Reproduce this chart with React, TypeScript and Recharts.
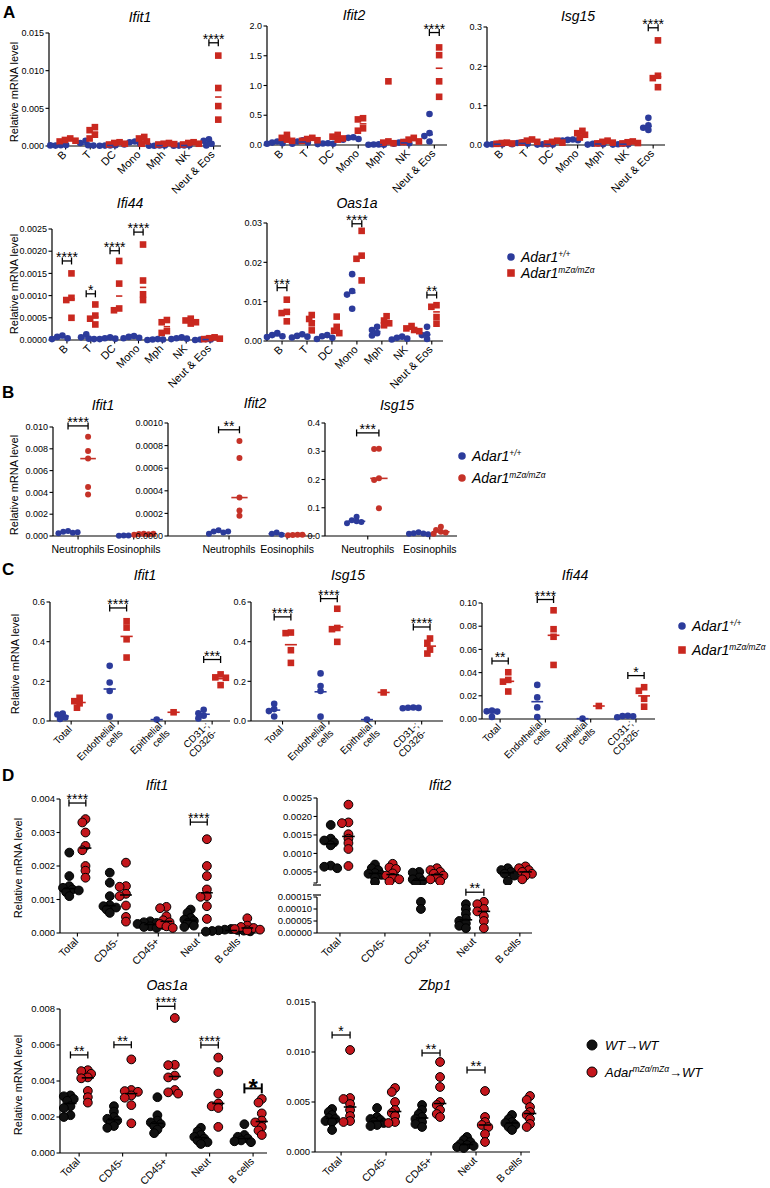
import React from 'react'
import { ScatterChart, Scatter, XAxis, YAxis, ReferenceDot } from 'recharts'

const FONT = '"Liberation Sans", Arial, Helvetica, sans-serif'
const BLUE = '#2c3b9b'
const RED = '#c9281f'
const DRED = '#c4161c'

// ---- A: sorted immune cells, n = 4
const aCells = ['B', 'T', 'DC', 'Mono', 'Mph', 'NK', 'Neut & Eos']
const aIfit1Wt = [[0.0001, 0.00005, 0.00012, 0.00008], [0.0007, 0.0004, 0.0001, 0.00005], [0.00008, 0.00005, 0.0001, 0.00004], [0.0006, 0.0005, 0.0003, 0.0002], [0.00006, 0.00004, 0.00008, 0.00003], [0.00008, 0.00005, 0.0001, 0.00004], [0.0009, 0.0007, 0.0003, 0.00008]]
const aIfit1Mut = [[0.001, 0.0008, 0.0007, 0.0006], [0.0025, 0.0021, 0.0015, 0.001], [0.0005, 0.0004, 0.0003, 0.0002], [0.0012, 0.001, 0.0006, 0.0003], [0.0004, 0.0003, 0.00025, 0.0002], [0.0005, 0.0004, 0.0003, 0.0002], [0.012, 0.0077, 0.0053, 0.0035]]
const aIfit1Sig = [{ cat: 6, y: 0.0137, label: '****' }]
const aIfit1Ticks = [0, 0.005, 0.01, 0.015]

const aIfit2Wt = [[0.06, 0.04, 0.03, 0.02], [0.08, 0.06, 0.04, 0.02], [0.03, 0.025, 0.02, 0.015], [0.13, 0.12, 0.1, 0.09], [0.01, 0.008, 0.005, 0.003], [0.05, 0.04, 0.03, 0.02], [0.52, 0.2, 0.15, 0.06]]
const aIfit2Mut = [[0.17, 0.12, 0.09, 0.07], [0.12, 0.1, 0.08, 0.07], [0.17, 0.14, 0.11, 0.09], [0.45, 0.43, 0.28, 0.24], [1.07, 0.06, 0.04, 0.03], [0.12, 0.09, 0.06, 0.05], [1.64, 1.51, 1.07, 0.81]]
const aIfit2Sig = [{ cat: 6, y: 1.89, label: '****' }]
const aIfit2Ticks = [0, 0.5, 1, 1.5, 2]

const aIsg15Wt = [[0.003, 0.002, 0.002, 0.001], [0.007, 0.005, 0.003, 0.002], [0.002, 0.002, 0.001, 0.001], [0.014, 0.013, 0.012, 0.011], [0.004, 0.003, 0.002, 0.001], [0.003, 0.002, 0.002, 0.001], [0.069, 0.05, 0.044, 0.038]]
const aIsg15Mut = [[0.006, 0.005, 0.004, 0.003], [0.014, 0.011, 0.008, 0.006], [0.011, 0.008, 0.006, 0.004], [0.036, 0.03, 0.026, 0.019], [0.011, 0.008, 0.006, 0.004], [0.009, 0.007, 0.005, 0.004], [0.266, 0.176, 0.17, 0.147]]
const aIsg15Sig = [{ cat: 6, y: 0.298, label: '****' }]
const aIsg15Ticks = [0, 0.1, 0.2, 0.3]

const aIfi44Wt = [[0.0001, 0.00007, 0.00004, 0.00002], [0.00013, 0.00006, 0.00003, 0.00002], [0.00006, 0.00004, 0.00003, 0.00002], [0.00009, 0.00007, 0.00005, 0.00004], [0.00002, 0.00001, 0.00001, 0], [0.00006, 0.00004, 0.00003, 0.00002], [0.00002, 0.00001, 0.00001, 0]]
const aIfi44Mut = [[0.0015, 0.00095, 0.0009, 0.0005], [0.0008, 0.00055, 0.00048, 0.00035], [0.00178, 0.00127, 0.00071, 0.00067], [0.00215, 0.00134, 0.00103, 0.0009], [0.00045, 0.0004, 0.0002, 0.00016], [0.00048, 0.00044, 0.0004, 0.00037], [0.00006, 0.00004, 0.00003, 0.00002]]
const aIfi44Sig = [{ cat: 0, y: 0.00178, label: '****' }, { cat: 1, y: 0.00104, label: '*' }, { cat: 2, y: 0.00201, label: '****' }, { cat: 3, y: 0.00243, label: '****' }]
const aIfi44Ticks = [0, 0.0005, 0.001, 0.0015, 0.002, 0.0025]

const aOas1aWt = [[0.002, 0.0015, 0.0012, 0.001], [0.0017, 0.0013, 0.0011, 0.0009], [0.0015, 0.0012, 0.0008, 0.0005], [0.017, 0.0127, 0.0118, 0.0082], [0.0036, 0.0028, 0.002, 0.0014], [0.0011, 0.0008, 0.0006, 0.0004], [0.0036, 0.0017, 0.0015, 0.0005]]
const aOas1aMut = [[0.0105, 0.0074, 0.0071, 0.005], [0.0066, 0.0056, 0.0045, 0.0027], [0.0062, 0.0036, 0.0026, 0.002], [0.028, 0.0217, 0.0209, 0.0154], [0.0063, 0.0052, 0.0045, 0.004], [0.0038, 0.0032, 0.0028, 0.0025], [0.0091, 0.0087, 0.0061, 0.0044]]
const aOas1aSig = [{ cat: 0, y: 0.01355, label: '***' }, { cat: 3, y: 0.0298, label: '****' }, { cat: 6, y: 0.0117, label: '**' }]
const aOas1aTicks = [0, 0.01, 0.02, 0.03]

// ---- B: neutrophils vs eosinophils
const bCells = ['Neutrophils', 'Eosinophils']
const bIfit1Wt = [[0.00045, 0.0004, 0.0003, 0.00025, 0.00035], [0.00005, 0.00003, 0.00004]]
const bIfit1Mut = [[0.0091, 0.0078, 0.0071, 0.0045, 0.0038], [0.0002, 0.00018, 0.00015, 0.00012, 0.0002]]
const bIfit1Sig = [{ cat: 0, y: 0.0101, label: '****' }]
const bIfit1Ticks = [0, 0.002, 0.004, 0.006, 0.008, 0.01]
const bIfit2Wt = [[0.00005, 0.00004, 0.00003, 0.00002, 0.00004], [0.00003, 0.00002, 0.00001]]
const bIfit2Mut = [[0.00084, 0.00069, 0.00034, 0.000225, 0.00018], [0.00001, 0.000008, 0.000012, 0.000006]]
const bIfit2Sig = [{ cat: 0, y: 0.00094, label: '**' }]
const bIfit2Ticks = [0, 0.0002, 0.0004, 0.0006, 0.0008, 0.001]
const bIsg15Wt = [[0.068, 0.056, 0.052, 0.05, 0.045], [0.013, 0.01, 0.009, 0.008, 0.006]]
const bIsg15Mut = [[0.309, 0.308, 0.204, 0.198, 0.098], [0.033, 0.021, 0.015, 0.012, 0.008]]
const bIsg15Sig = [{ cat: 0, y: 0.365, label: '***' }]
const bIsg15Ticks = [0, 0.1, 0.2, 0.3, 0.4]

// ---- C: lung cell fractions
const cCells = ['Total', 'Endothelial\ncells', 'Epithelial\ncells', 'CD31-;\nCD326-']
const cIfit1Wt = [[0.038, 0.033, 0.018, 0.01], [0.278, 0.194, 0.151, 0.022], [0.007], [0.057, 0.039, 0.027, 0.013]]
const cIfit1Mut = [[0.117, 0.1, 0.089, 0.067], [0.503, 0.471, 0.412, 0.32], [0.044], [0.235, 0.22, 0.218, 0.181]]
const cIfit1Sig = [{ cat: 1, y: 0.57, label: '****' }, { cat: 3, y: 0.31, label: '***' }]
const cIsg15Wt = [[0.087, 0.06, 0.05, 0.023], [0.24, 0.176, 0.151, 0.022], [0.007], [0.068, 0.067, 0.066, 0.064]]
const cIsg15Mut = [[0.446, 0.443, 0.357, 0.293], [0.566, 0.469, 0.463, 0.399], [0.144], [0.416, 0.394, 0.36, 0.34]]
const cIsg15Sig = [{ cat: 0, y: 0.525, label: '****' }, { cat: 1, y: 0.617, label: '****' }, { cat: 3, y: 0.474, label: '****' }]
const cTicks = [0, 0.2, 0.4, 0.6]
const cIfi44Wt = [[0.0072, 0.0066, 0.0064, 0.0018], [0.0294, 0.0186, 0.01, 0.0017], [0.0003], [0.0028, 0.0026, 0.0024, 0.0015]]
const cIfi44Mut = [[0.0403, 0.0337, 0.0322, 0.0237], [0.0937, 0.0774, 0.0709, 0.0466], [0.0112], [0.0274, 0.0243, 0.0174, 0.0106]]
const cIfi44Sig = [{ cat: 0, y: 0.05, label: '**' }, { cat: 1, y: 0.103, label: '****' }, { cat: 3, y: 0.0374, label: '*' }]
const cIfi44Ticks = [0, 0.02, 0.04, 0.06, 0.08, 0.1]

// ---- D: bone marrow chimeras
const dCells = ['Total', 'CD45-', 'CD45+', 'Neut', 'B cells']
const dIfit1Wt = [[0.0024, 0.0017, 0.0014, 0.00135, 0.0013, 0.00127, 0.00122, 0.0011], [0.0018, 0.0015, 0.0011, 0.00083, 0.0008, 0.00076, 0.0007, 0.0006], [0.00035, 0.00032, 0.0003, 0.00027, 0.00024, 0.0002, 0.00018, 0.00015], [0.0007, 0.0006, 0.00045, 0.0004, 0.00036, 0.0003, 0.00022, 0.00018], [0.00012, 0.0001, 0.00009, 0.00008, 0.00007, 0.00006, 0.00005, 0.00004]]
const dIfit1Mut = [[0.0034, 0.0033, 0.003, 0.0026, 0.00247, 0.002, 0.00186, 0.00165], [0.0021, 0.0014, 0.00138, 0.00117, 0.0011, 0.00082, 0.00048, 0.00034], [0.00078, 0.00074, 0.0005, 0.00038, 0.00032, 0.00027, 0.0002, 0.00015], [0.0028, 0.002, 0.0017, 0.0013, 0.0011, 0.00108, 0.0008, 0.00042], [0.00044, 0.00022, 0.00018, 0.00015, 0.00012, 0.0001, 0.00008]]
const dIfit1Sig = [{ cat: 0, y: 0.00388, label: '****' }, { cat: 3, y: 0.00331, label: '****' }]
const dIfit1Ticks = [0, 0.001, 0.002, 0.003, 0.004]

const dIfit2Wt = [[0.00177, 0.0014, 0.00135, 0.0013, 0.00122, 0.00067, 0.00064, 0.0006], [0.0007, 0.0006, 0.00055, 0.00047, 0.00045, 0.00042, 0.00035, 0.00023], [0.0005, 0.00048, 0.00035, 0.0003, 0.00025, 0.0002, 0.00013, 0.0001], [0.00012, 0.0001, 0.00008, 0.00006, 0.00005, 0.00004, 0.00003, 0.00002], [0.0006, 0.00055, 0.0005, 0.00045, 0.0004, 0.00025]]
const dIfit2Mut = [[0.00232, 0.00184, 0.00182, 0.00152, 0.0014, 0.00128, 0.00112, 0.00066], [0.00072, 0.00062, 0.00058, 0.00046, 0.0004, 0.00034, 0.0003, 0.00024], [0.0006, 0.00055, 0.0005, 0.00045, 0.0004, 0.00035, 0.0003, 0.00025], [0.00013, 0.00012, 0.0001, 0.00009, 0.00007, 0.00005, 0.00002], [0.00065, 0.0006, 0.00055, 0.0005, 0.00045, 0.0004, 0.0003]]
const dIfit2Sig = [{ cat: 3, y: 0.00017, label: '**' }]
const dIfit2UpperTicks = [0.0002, 0.0005, 0.001, 0.0015, 0.002, 0.0025]
const dIfit2LowerTicks = [0, 0.00005, 0.0001, 0.00015]
const dIfit2Break = 0.00017

const dOas1aWt = [[0.0032, 0.00315, 0.003, 0.0029, 0.0026, 0.0025, 0.0021, 0.002], [0.0026, 0.0023, 0.002, 0.0019, 0.0018, 0.0017, 0.0015, 0.0014], [0.0031, 0.0021, 0.0018, 0.0017, 0.0016, 0.0015, 0.0013, 0.0011], [0.0014, 0.0012, 0.001, 0.0009, 0.0008, 0.0007, 0.0006, 0.0005], [0.0016, 0.001, 0.0009, 0.0008, 0.0007, 0.00065, 0.0006]]
const dOas1aMut = [[0.0046, 0.00455, 0.0044, 0.0042, 0.00415, 0.00345, 0.0031, 0.0028], [0.0052, 0.0035, 0.00344, 0.0034, 0.0032, 0.00307, 0.00266, 0.00165], [0.0075, 0.0049, 0.00488, 0.0043, 0.0042, 0.0035, 0.00337, 0.0033], [0.0053, 0.0045, 0.0033, 0.00275, 0.0026, 0.0025, 0.00145], [0.003, 0.0028, 0.0022, 0.0018, 0.0017, 0.00145, 0.00125, 0.001]]
const dOas1aSig = [{ cat: 0, y: 0.00545, label: '**' }, { cat: 1, y: 0.00601, label: '**' }, { cat: 2, y: 0.00815, label: '****' }, { cat: 3, y: 0.006, label: '****' }, { cat: 4, y: 0.00359, label: '*', big: true }]
const dOas1aTicks = [0, 0.002, 0.004, 0.006, 0.008]

const dZbp1Wt = [[0.0043, 0.004, 0.0037, 0.0034, 0.0033, 0.0031, 0.003, 0.0022], [0.0044, 0.0035, 0.0033, 0.0032, 0.003, 0.0029, 0.0027, 0.0026], [0.0047, 0.0042, 0.0038, 0.0035, 0.0033, 0.003, 0.0028, 0.0025], [0.0015, 0.0012, 0.001, 0.0008, 0.0007, 0.0006, 0.0005, 0.0004], [0.0037, 0.0033, 0.003, 0.0029, 0.0027, 0.0025, 0.0022]]
const dZbp1Mut = [[0.0102, 0.0054, 0.0053, 0.0048, 0.0042, 0.0036, 0.0031, 0.003], [0.0064, 0.006, 0.005, 0.0042, 0.0039, 0.0036, 0.003, 0.0029], [0.009, 0.0075, 0.0065, 0.005, 0.0047, 0.0042, 0.0038, 0.0035], [0.0061, 0.0035, 0.003, 0.0027, 0.0025, 0.0018, 0.001], [0.0056, 0.0052, 0.0045, 0.004, 0.0037, 0.0033, 0.0028, 0.0025]]
const dZbp1Sig = [{ cat: 0, y: 0.0117, label: '*' }, { cat: 2, y: 0.0099, label: '**' }, { cat: 3, y: 0.0082, label: '**' }]
const dZbp1Ticks = [0, 0.005, 0.01, 0.015]

type Sig = { cat: number; y: number; label: string; big?: boolean }
type Kind = {
  r: number; wtFill: string; mutFill: string; mutSquare: boolean; stroke?: string
  off: number; medHalf: number; medWt: string; medMut: string; stat: 'median' | 'mean'
  tick: 'rot' | 'flat'; tickFont: number; yFont: number; gap: number; step: number
}

const kindA: Kind = { r: 3.3, wtFill: BLUE, mutFill: RED, mutSquare: true, off: 0.19, medHalf: 0.13, medWt: BLUE, medMut: RED, stat: 'median', tick: 'rot', tickFont: 11, yFont: 9, gap: 0.7, step: 0.8 }
const kindB: Kind = { ...kindA, r: 3, mutSquare: false, mutFill: '#c53228', medMut: '#c53228', off: 0.18, medHalf: 0.14, tick: 'flat', tickFont: 10.5 }
const kindC: Kind = { ...kindA, r: 3.3, stat: 'mean', off: 0.18, tickFont: 10 }
const kindD: Kind = { r: 4.4, wtFill: '#111', mutFill: DRED, mutSquare: false, stroke: '#000', off: 0.2, medHalf: 0.14, medWt: '#000', medMut: '#000', stat: 'median', tick: 'rot', tickFont: 10.5, yFont: 9.5, gap: 0.5, step: 0.75 }

function centre(vals: number[], stat: 'median' | 'mean') {
  if (stat === 'mean') return vals.reduce((a, b) => a + b, 0) / vals.length
  const s = [...vals].sort((a, b) => a - b)
  const m = Math.floor(s.length / 2)
  return s.length % 2 ? s[m] : (s[m - 1] + s[m]) / 2
}

// simple beeswarm: push points sideways when they would sit on each other
function swarm(ys: number[], minDist: number, step: number) {
  const placed: [number, number][] = []
  return ys.map(y => {
    for (let k = 0; k < 24; k++) {
      const dx = k === 0 ? 0 : (k % 2 ? -1 : 1) * Math.ceil(k / 2) * step
      if (placed.every(([px, py]) => Math.hypot(px - dx, py - y) >= minDist)) {
        placed.push([dx, y])
        return dx
      }
    }
    placed.push([0, y])
    return 0
  })
}

function CatTick(props: any) {
  const { x, y, payload, labels, kind } = props
  const label: string = labels[payload.value] ?? ''
  const fs = kind.tickFont
  if (kind.tick === 'flat') {
    return <text x={x} y={y + 11.5} textAnchor="middle" fontSize={fs} fontFamily={FONT} fill="#000">{label}</text>
  }
  const lines = label.split('\n')
  const lh = fs * 1.05
  return (
    <g transform={`translate(${x - 1},${y + 1}) rotate(-45)`}>
      <text textAnchor="end" fontSize={fs} fontFamily={FONT} fill="#000">
        {lines.map((ln, i) => (
          <tspan key={i} x={0} y={(i - (lines.length - 1) / 2) * lh + fs * 0.35}>{ln}</tspan>
        ))}
      </text>
    </g>
  )
}

type PlotProps = {
  cats: string[]; wt: number[][]; mut: number[][]; sig?: Sig[]
  yDomain: [number, number]; yTicks: number[]; digits: number
  axisX: number; top: number; bottom: number; right: number; xDomain: [number, number]
  kind: Kind; hideX?: boolean; blank?: number; keep?: (v: number) => boolean
}

function Plot(p: PlotProps) {
  const YW = 48, MT = 32, MR = 14
  const XH = p.hideX ? 0 : 62
  const k = p.kind
  const plotW = p.right - p.axisX
  const plotH = p.bottom - p.top
  const [x0, x1] = p.xDomain
  const [y0, y1] = p.yDomain
  const ux = plotW / (x1 - x0)
  const toPy = (v: number) => p.bottom - ((v - y0) / (y1 - y0)) * plotH
  const keep = p.keep ?? (() => true)

  const build = (groups: number[][], side: number) => {
    const pts: { x: number; y: number }[] = []
    groups.forEach((vals, ci) => {
      const kept = vals.filter(keep)
      const offs = swarm(kept.map(toPy), k.r * 2 * k.gap, k.r * k.step)
      kept.forEach((v, i) => pts.push({ x: ci + side * k.off + offs[i] / ux, y: v }))
    })
    return pts
  }
  const wtPts = build(p.wt, -1)
  const mutPts = build(p.mut, 1)
  const meds: { x: number; y: number; c: string }[] = []
  ;[p.wt, p.mut].forEach((groups, gi) =>
    groups.forEach((vals, ci) => {
      const m = centre(vals, k.stat)
      if (!keep(m)) return
      meds.push({ x: ci + (gi ? 1 : -1) * k.off, y: m, c: gi ? k.medMut : k.medWt })
    })
  )
  const hw = k.medHalf * ux
  const bw = k.off * ux

  const wtShape = (s: any) => (
    <circle cx={s.cx} cy={s.cy} r={k.r} fill={k.wtFill} stroke={k.stroke ?? 'none'} strokeWidth={k.stroke ? 1 : 0} />
  )
  const mutShape = (s: any) =>
    k.mutSquare ? (
      <rect x={s.cx - k.r} y={s.cy - k.r} width={k.r * 2} height={k.r * 2} fill={k.mutFill} />
    ) : (
      <circle cx={s.cx} cy={s.cy} r={k.r} fill={k.mutFill} stroke={k.stroke ?? 'none'} strokeWidth={k.stroke ? 1 : 0} />
    )
  const medShape = (s: any) => (
    <line x1={s.cx - hw} x2={s.cx + hw} y1={s.cy} y2={s.cy} stroke={s.payload.c} strokeWidth={1.6} />
  )

  const fmt = (v: number) => (p.blank !== undefined && Math.abs(v - p.blank) < 1e-12 ? '' : v.toFixed(p.digits))

  return (
    <div style={{ position: 'absolute', left: p.axisX - YW, top: p.top - MT }}>
      <ScatterChart width={YW + plotW + MR} height={MT + plotH + XH + 2} margin={{ top: MT, right: MR, left: 0, bottom: 2 }}>
        <XAxis
          type="number" dataKey="x" domain={p.xDomain} ticks={p.cats.map((_, i) => i)} interval={0}
          hide={p.hideX} height={XH} tickSize={3.5} axisLine={{ stroke: '#000', strokeWidth: 1.2 }}
          tickLine={{ stroke: '#000', strokeWidth: 1.1 }}
          tick={(tp: any) => <CatTick {...tp} labels={p.cats} kind={k} />}
        />
        <YAxis
          type="number" dataKey="y" domain={p.yDomain} ticks={p.yTicks} interval={0} width={YW}
          tickSize={3.5} tickMargin={1.5} tickFormatter={fmt}
          axisLine={{ stroke: '#000', strokeWidth: 1.2 }} tickLine={{ stroke: '#000', strokeWidth: 1.1 }}
          tick={{ fontSize: k.yFont, fill: '#000', fontFamily: FONT }}
        />
        <Scatter data={wtPts} shape={wtShape} isAnimationActive={false} />
        <Scatter data={mutPts} shape={mutShape} isAnimationActive={false} />
        <Scatter data={meds} shape={medShape} isAnimationActive={false} />
        {(p.sig ?? []).map((s, i) => (
          <ReferenceDot
            key={i} x={s.cat} y={s.y} r={0} ifOverflow="visible"
            shape={(d: any) => (
              <g stroke="#000" strokeWidth={s.big ? 2 : 1.3}>
                <line x1={d.cx - bw} x2={d.cx + bw} y1={d.cy} y2={d.cy} />
                <line x1={d.cx - bw} x2={d.cx - bw} y1={d.cy - (s.big ? 5 : 3.5)} y2={d.cy + (s.big ? 5 : 3.5)} />
                <line x1={d.cx + bw} x2={d.cx + bw} y1={d.cy - (s.big ? 5 : 3.5)} y2={d.cy + (s.big ? 5 : 3.5)} />
                <text x={d.cx} y={s.big ? d.cy + 8 : d.cy + 1} textAnchor="middle" stroke="none" fill="#000"
                  fontSize={s.big ? 24 : 14} fontWeight={s.big ? 'bold' : 'normal'} fontFamily={FONT}>{s.label}</text>
              </g>
            )}
          />
        ))}
      </ScatterChart>
    </div>
  )
}

function Title({ x, y, t }: { x: number; y: number; t: string }) {
  return <text x={x} y={y} textAnchor="middle" fontSize={14} fontStyle="italic" fontFamily={FONT}>{t}</text>
}
function Letter({ x, y, t }: { x: number; y: number; t: string }) {
  return <text x={x} y={y} fontSize={17} fontWeight="bold" fontFamily={FONT}>{t}</text>
}
function YLab({ x, y }: { x: number; y: number }) {
  return <text transform={`translate(${x},${y}) rotate(-90)`} textAnchor="middle" fontSize={11} fontFamily={FONT}>Relative mRNA level</text>
}
function AdarLegend({ x, y, fs, square, dy }: { x: number; y: number; fs: number; square: boolean; dy: number }) {
  const r = fs * 0.27
  return (
    <g fontFamily={FONT} fontStyle="italic">
      <circle cx={x} cy={y} r={r} fill={BLUE} />
      {square
        ? <rect x={x - r} y={y + dy - r} width={r * 2} height={r * 2} fill={RED} />
        : <circle cx={x} cy={y + dy} r={r} fill="#c53228" />}
      <text x={x + 10} y={y + fs * 0.36} fontSize={fs}>Adar1<tspan dy={-fs * 0.36} fontSize={fs * 0.6}>+/+</tspan></text>
      <text x={x + 10} y={y + dy + fs * 0.36} fontSize={fs}>Adar1<tspan dy={-fs * 0.36} fontSize={fs * 0.6}>mZα/mZα</tspan></text>
    </g>
  )
}

export default function App() {
  return (
    <div style={{ position: 'absolute', left: 0, top: 0, width: 770, height: 1188, background: '#fff', overflow: 'hidden' }}>
      <Plot cats={aCells} wt={aIfit1Wt} mut={aIfit1Mut} sig={aIfit1Sig} yDomain={[0, 0.015]} yTicks={aIfit1Ticks} digits={3}
        axisX={49} top={33} bottom={146} right={221} xDomain={[-0.67, 6.3]} kind={kindA} />
      <Plot cats={aCells} wt={aIfit2Wt} mut={aIfit2Mut} sig={aIfit2Sig} yDomain={[0, 2]} yTicks={aIfit2Ticks} digits={1}
        axisX={267} top={26} bottom={145} right={447} xDomain={[-0.42, 6.5]} kind={kindA} />
      <Plot cats={aCells} wt={aIsg15Wt} mut={aIsg15Mut} sig={aIsg15Sig} yDomain={[0, 0.3]} yTicks={aIsg15Ticks} digits={1}
        axisX={487} top={27} bottom={145} right={665} xDomain={[-0.43, 6.47]} kind={kindA} />
      <Plot cats={aCells} wt={aIfi44Wt} mut={aIfi44Mut} sig={aIfi44Sig} yDomain={[0, 0.0025]} yTicks={aIfi44Ticks} digits={4}
        axisX={52} top={229} bottom={340} right={222} xDomain={[-0.52, 6.5]} kind={kindA} />
      <Plot cats={aCells} wt={aOas1aWt} mut={aOas1aMut} sig={aOas1aSig} yDomain={[0, 0.03]} yTicks={aOas1aTicks} digits={2}
        axisX={267} top={223} bottom={341} right={443} xDomain={[-0.43, 6.45]} kind={kindA} />

      <Plot cats={bCells} wt={bIfit1Wt} mut={bIfit1Mut} sig={bIfit1Sig} yDomain={[0, 0.01]} yTicks={bIfit1Ticks} digits={3}
        axisX={53} top={427} bottom={536} right={156} xDomain={[-0.45, 1.4]} kind={kindB} />
      <Plot cats={bCells} wt={bIfit2Wt} mut={bIfit2Mut} sig={bIfit2Sig} yDomain={[0, 0.001]} yTicks={bIfit2Ticks} digits={4}
        axisX={168} top={423} bottom={536} right={315} xDomain={[-1.05, 1.48]} kind={kindB} />
      <Plot cats={bCells} wt={bIsg15Wt} mut={bIsg15Mut} sig={bIsg15Sig} yDomain={[0, 0.4]} yTicks={bIsg15Ticks} digits={1}
        axisX={325} top={423} bottom={536} right={457} xDomain={[-0.69, 1.44]} kind={kindB} />

      <Plot cats={cCells} wt={cIfit1Wt} mut={cIfit1Mut} sig={cIfit1Sig} yDomain={[0, 0.6]} yTicks={cTicks} digits={1}
        axisX={50} top={602} bottom={721} right={230} xDomain={[-0.45, 3.38]} kind={kindC} />
      <Plot cats={cCells} wt={cIsg15Wt} mut={cIsg15Mut} sig={cIsg15Sig} yDomain={[0, 0.6]} yTicks={cTicks} digits={1}
        axisX={251} top={602} bottom={721} right={443} xDomain={[-0.68, 3.46]} kind={kindC} />
      <Plot cats={cCells} wt={cIfi44Wt} mut={cIfi44Mut} sig={cIfi44Sig} yDomain={[0, 0.1]} yTicks={cIfi44Ticks} digits={2}
        axisX={482} top={603} bottom={719} right={655} xDomain={[-0.4, 3.42]} kind={kindC} />

      <Plot cats={dCells} wt={dIfit1Wt} mut={dIfit1Mut} sig={dIfit1Sig} yDomain={[0, 0.004]} yTicks={dIfit1Ticks} digits={3}
        axisX={60} top={799} bottom={933} right={260} xDomain={[-0.43, 4.31]} kind={kindD} />
      <Plot cats={dCells} wt={dIfit2Wt} mut={dIfit2Mut} yDomain={[0.0002, 0.0025]} yTicks={dIfit2UpperTicks} digits={4} blank={0.0002}
        axisX={317} top={798} bottom={883} right={532} xDomain={[-0.51, 4.27]} kind={kindD} hideX keep={v => v >= dIfit2Break} />
      <Plot cats={dCells} wt={dIfit2Wt} mut={dIfit2Mut} sig={dIfit2Sig} yDomain={[0, 0.00015]} yTicks={dIfit2LowerTicks} digits={5}
        axisX={317} top={897} bottom={933} right={532} xDomain={[-0.51, 4.27]} kind={kindD} keep={v => v < dIfit2Break} />
      <Plot cats={dCells} wt={dOas1aWt} mut={dOas1aMut} sig={dOas1aSig} yDomain={[0, 0.008]} yTicks={dOas1aTicks} digits={3}
        axisX={60} top={1009} bottom={1153} right={267} xDomain={[-0.44, 4.32]} kind={kindD} />
      <Plot cats={dCells} wt={dZbp1Wt} mut={dZbp1Mut} sig={dZbp1Sig} yDomain={[0, 0.015]} yTicks={dZbp1Ticks} digits={3}
        axisX={315} top={1002} bottom={1152} right={530} xDomain={[-0.58, 4.2]} kind={kindD} />

      <svg width={770} height={1188} style={{ position: 'absolute', left: 0, top: 0, pointerEvents: 'none' }}>
        <Letter x={3} y={18} t="A" />
        <Letter x={2} y={398} t="B" />
        <Letter x={2} y={575} t="C" />
        <Letter x={2} y={781} t="D" />

        <Title x={140} y={21.5} t="Ifit1" />
        <Title x={354} y={20} t="Ifit2" />
        <Title x={578} y={20.5} t="Isg15" />
        <Title x={130} y={208} t="Ifi44" />
        <Title x={357} y={208} t="Oas1a" />
        <Title x={103} y={410} t="Ifit1" />
        <Title x={255} y={408} t="Ifit2" />
        <Title x={397} y={410} t="Isg15" />
        <Title x={145} y={580} t="Ifit1" />
        <Title x={348} y={580} t="Isg15" />
        <Title x={575} y={580} t="Ifi44" />
        <Title x={157} y={790} t="Ifit1" />
        <Title x={440} y={790} t="Ifit2" />
        <Title x={167} y={990} t="Oas1a" />
        <Title x={435} y={990} t="Zbp1" />

        <YLab x={18} y={92} />
        <YLab x={18} y={284} />
        <YLab x={18} y={485} />
        <YLab x={19} y={664} />
        <YLab x={22} y={868} />
        <YLab x={22} y={1085} />

        {/* Ifit2 axis break */}
        <line x1={313} x2={321} y1={885} y2={885} stroke="#000" strokeWidth={1.2} />
        <line x1={313} x2={321} y1={895} y2={895} stroke="#000" strokeWidth={1.2} />

        <AdarLegend x={511} y={257} fs={14} square dy={16} />
        <AdarLegend x={462} y={456} fs={14} square={false} dy={22} />
        <AdarLegend x={682} y={626} fs={14} square dy={24} />

        <g fontFamily={FONT} fontStyle="italic" fontSize={13}>
          <circle cx={592} cy={1045} r={5} fill="#111" stroke="#000" />
          <circle cx={592} cy={1072} r={5} fill={DRED} stroke="#000" />
          <text x={605} y={1050}>WT→WT</text>
          <text x={605} y={1077}>Adar<tspan dy={-5} fontSize={8.5}>mZα/mZα</tspan><tspan dy={5}>→WT</tspan></text>
        </g>
      </svg>
    </div>
  )
}
